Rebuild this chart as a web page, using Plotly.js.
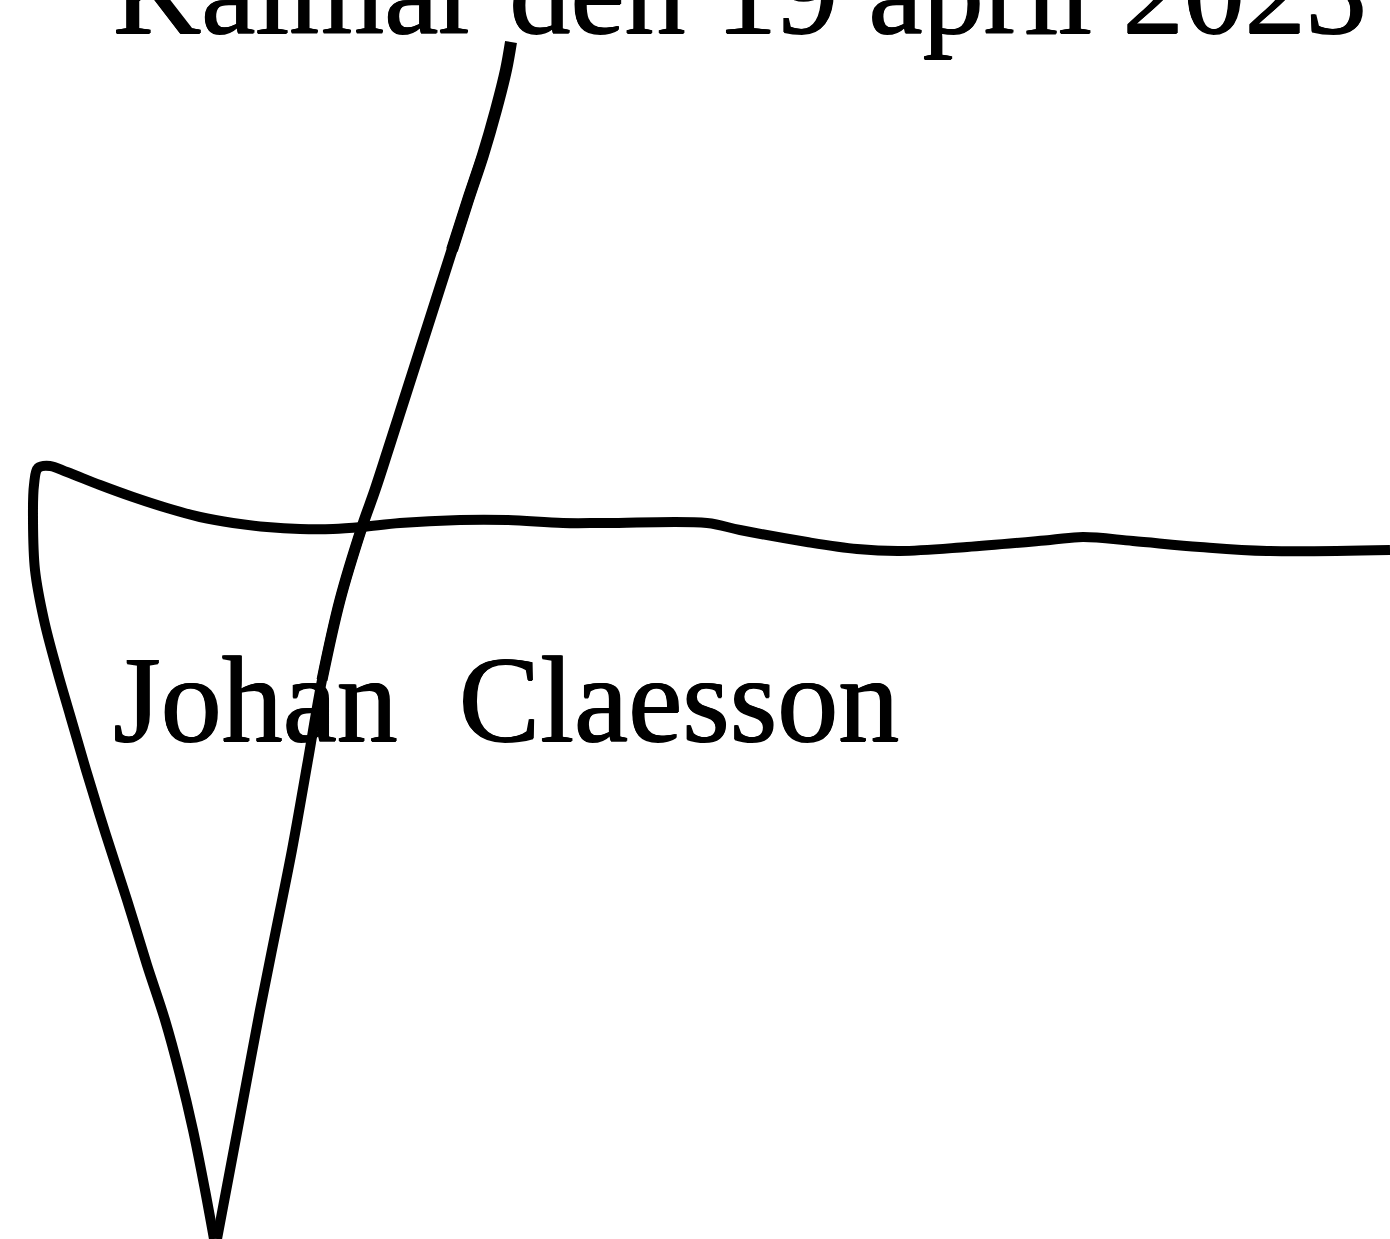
<!DOCTYPE html>
<html>
<head>
<meta charset="utf-8">
<script src="https://cdn.plot.ly/plotly-3.0.1.min.js"></script>
<style>html,body{margin:0;padding:0;background:#fff;}#chart{width:1390px;height:1239px;}</style>
</head>
<body>
<div id="chart"></div>
<script>
// Text lines
const dateText = "Kalmar den 19 april 2023";
const nameText = "Johan\u00a0 Claesson";

// Long diagonal pen stroke (top part thick, lower part thinner)
const strokeTopX = [511, 506, 496, 483, 468, 452];
const strokeTopY = [42, 70, 110, 155, 200, 250];
const strokeMidX = [483, 468, 452, 436, 420, 404, 388, 375, 362, 340, 322];
const strokeMidY = [155, 200, 250, 300, 350, 400, 450, 490, 527, 600, 680];
const strokeLowX = [362, 340, 322, 308, 292, 276, 260, 245, 230, 217];
const strokeLowY = [527, 600, 680, 760, 850, 930, 1010, 1090, 1170, 1239];

// Horizontal line with the loop at the left
const loopX = [1390, 1267, 1200, 1133, 1083, 1050, 967, 900, 857, 807, 740, 707, 607, 563, 507, 460, 400, 362, 333, 300, 267, 233, 200, 167, 133, 100, 67, 50, 38, 34, 33, 35, 44, 57, 70, 86, 106, 127, 147, 165, 180, 193, 205, 214];
const loopY = [550, 551, 547, 541, 537, 540, 547, 551, 549, 542, 530, 523, 523, 523, 520, 520, 523, 527, 529, 529, 527, 523, 517, 508, 497, 485, 472, 466, 468, 485, 520, 570, 620, 670, 715, 770, 835, 900, 965, 1020, 1075, 1130, 1190, 1239];

const ink = "#000000";
function stroke(x, y, w) {
  return {x: x, y: y, type: "scatter", mode: "lines",
          line: {color: ink, width: w, shape: "spline", smoothing: 1},
          hoverinfo: "skip", showlegend: false};
}

const data = [
  stroke(loopX, loopY, 10),
  stroke(strokeLowX, strokeLowY, 10),
  stroke(strokeMidX, strokeMidY, 11),
  stroke(strokeTopX, strokeTopY, 12)
];

const textFont = {family: "Liberation Serif", size: 122, color: ink,
                  shadow: "0.9px 0 0 #000, -0.6px 0 0 #000, 0 0.6px 0 #000"};

const layout = {
  width: 1390, height: 1239,
  margin: {l: 0, r: 0, t: 0, b: 0, pad: 0},
  paper_bgcolor: "#ffffff", plot_bgcolor: "#ffffff",
  xaxis: {range: [0, 1390], visible: false, fixedrange: true},
  yaxis: {range: [1239, 0], visible: false, fixedrange: true},
  showlegend: false,
  annotations: [
    {text: dateText, x: 111, y: 61, xref: "x", yref: "y", xanchor: "left", yanchor: "bottom",
     showarrow: false, font: textFont},
    {text: nameText, x: 111, y: 769, xref: "x", yref: "y", xanchor: "left", yanchor: "bottom",
     showarrow: false, font: textFont}
  ]
};

Plotly.newPlot("chart", data, layout, {staticPlot: true, displayModeBar: false});
</script>
</body>
</html>
